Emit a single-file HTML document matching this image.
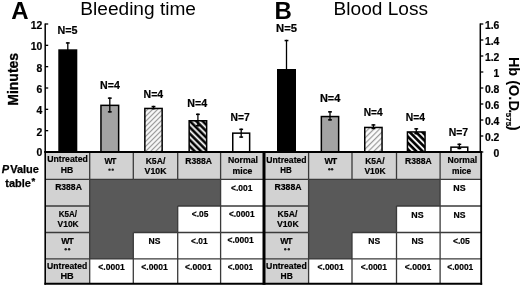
<!DOCTYPE html>
<html><head><meta charset="utf-8"><style>
html,body{margin:0;padding:0;background:#fff;width:520px;height:301px;overflow:hidden}
svg{display:block;font-family:"Liberation Sans", sans-serif;filter:grayscale(100%) blur(0.25px)}
</style></head><body>
<svg width="520" height="301" viewBox="0 0 520 301">
<rect width="520" height="301" fill="#fff"/>
<text x="11.2" y="18.8" font-size="24" font-weight="bold" text-anchor="start" fill="#000" >A</text>
<text x="274.4" y="18.8" font-size="24" font-weight="bold" text-anchor="start" fill="#000" >B</text>
<text x="80.3" y="14.9" font-size="19.1" font-weight="normal" text-anchor="start" fill="#000" >Bleeding time</text>
<text x="333.6" y="14.9" font-size="19.1" font-weight="normal" text-anchor="start" fill="#000" >Blood Loss</text>
<text transform="translate(18.2,79.3) rotate(-90)" font-size="14" font-weight="bold" text-anchor="middle" stroke="#000" stroke-width="0.3">Minutes</text>
<text transform="translate(509.3,56.9) rotate(90)" font-size="14.5" font-weight="bold" text-anchor="start" stroke="#000" stroke-width="0.08">Hb (O.D<tspan dx="-1.5">.</tspan><tspan font-size="8" dy="2.8" dx="-0.6">575</tspan><tspan dy="-2.8" dx="-0.4">)</tspan></text>
<line x1="45.2" y1="23.4" x2="45.2" y2="152.6" stroke="#000" stroke-width="1.5"/>
<line x1="45.2" y1="152.0" x2="48.2" y2="152.0" stroke="#000" stroke-width="1.3"/>
<text x="42.3" y="155.9" font-size="10.4" font-weight="bold" text-anchor="end" fill="#000" stroke="#000" stroke-width="0.2">0</text>
<line x1="45.2" y1="130.66666666666666" x2="48.2" y2="130.66666666666666" stroke="#000" stroke-width="1.3"/>
<text x="42.3" y="135.56666666666666" font-size="10.4" font-weight="bold" text-anchor="end" fill="#000" stroke="#000" stroke-width="0.2">2</text>
<line x1="45.2" y1="109.33333333333334" x2="48.2" y2="109.33333333333334" stroke="#000" stroke-width="1.3"/>
<text x="42.3" y="114.23333333333335" font-size="10.4" font-weight="bold" text-anchor="end" fill="#000" stroke="#000" stroke-width="0.2">4</text>
<line x1="45.2" y1="88.0" x2="48.2" y2="88.0" stroke="#000" stroke-width="1.3"/>
<text x="42.3" y="92.9" font-size="10.4" font-weight="bold" text-anchor="end" fill="#000" stroke="#000" stroke-width="0.2">6</text>
<line x1="45.2" y1="66.66666666666667" x2="48.2" y2="66.66666666666667" stroke="#000" stroke-width="1.3"/>
<text x="42.3" y="71.56666666666668" font-size="10.4" font-weight="bold" text-anchor="end" fill="#000" stroke="#000" stroke-width="0.2">8</text>
<line x1="45.2" y1="45.33333333333333" x2="48.2" y2="45.33333333333333" stroke="#000" stroke-width="1.3"/>
<text x="42.3" y="50.23333333333333" font-size="10.4" font-weight="bold" text-anchor="end" fill="#000" stroke="#000" stroke-width="0.2">10</text>
<line x1="45.2" y1="24.0" x2="48.2" y2="24.0" stroke="#000" stroke-width="1.3"/>
<text x="42.3" y="28.9" font-size="10.4" font-weight="bold" text-anchor="end" fill="#000" stroke="#000" stroke-width="0.2">12</text>
<line x1="480.3" y1="23.4" x2="480.3" y2="152.6" stroke="#000" stroke-width="1.5"/>
<line x1="480.3" y1="152.0" x2="483.3" y2="152.0" stroke="#000" stroke-width="1.3"/>
<text x="499.4" y="156.5" font-size="10.4" font-weight="bold" text-anchor="end" fill="#000" stroke="#000" stroke-width="0.2">0</text>
<line x1="480.3" y1="136.0" x2="483.3" y2="136.0" stroke="#000" stroke-width="1.3"/>
<text x="499.4" y="140.5" font-size="10.4" font-weight="bold" text-anchor="end" fill="#000" stroke="#000" stroke-width="0.2">0.2</text>
<line x1="480.3" y1="120.0" x2="483.3" y2="120.0" stroke="#000" stroke-width="1.3"/>
<text x="499.4" y="124.5" font-size="10.4" font-weight="bold" text-anchor="end" fill="#000" stroke="#000" stroke-width="0.2">0.4</text>
<line x1="480.3" y1="104.0" x2="483.3" y2="104.0" stroke="#000" stroke-width="1.3"/>
<text x="499.4" y="108.5" font-size="10.4" font-weight="bold" text-anchor="end" fill="#000" stroke="#000" stroke-width="0.2">0.6</text>
<line x1="480.3" y1="88.0" x2="483.3" y2="88.0" stroke="#000" stroke-width="1.3"/>
<text x="499.4" y="92.5" font-size="10.4" font-weight="bold" text-anchor="end" fill="#000" stroke="#000" stroke-width="0.2">0.8</text>
<line x1="480.3" y1="72.0" x2="483.3" y2="72.0" stroke="#000" stroke-width="1.3"/>
<text x="499.4" y="76.5" font-size="10.4" font-weight="bold" text-anchor="end" fill="#000" stroke="#000" stroke-width="0.2">1</text>
<line x1="480.3" y1="56.0" x2="483.3" y2="56.0" stroke="#000" stroke-width="1.3"/>
<text x="499.4" y="60.5" font-size="10.4" font-weight="bold" text-anchor="end" fill="#000" stroke="#000" stroke-width="0.2">1.2</text>
<line x1="480.3" y1="40.0" x2="483.3" y2="40.0" stroke="#000" stroke-width="1.3"/>
<text x="499.4" y="44.5" font-size="10.4" font-weight="bold" text-anchor="end" fill="#000" stroke="#000" stroke-width="0.2">1.4</text>
<line x1="480.3" y1="24.0" x2="483.3" y2="24.0" stroke="#000" stroke-width="1.3"/>
<text x="499.4" y="28.5" font-size="10.4" font-weight="bold" text-anchor="end" fill="#000" stroke="#000" stroke-width="0.2">1.6</text>
<defs><pattern id="hl" patternUnits="userSpaceOnUse" width="3.536" height="3.536" patternTransform="rotate(45)"><rect width="3.536" height="3.536" fill="#fff"/><rect x="0.729" width="1.300" height="3.536" fill="#9a9a9a"/></pattern><pattern id="hd" patternUnits="userSpaceOnUse" width="4.490" height="4.490" patternTransform="rotate(-45)"><rect width="4.490" height="4.490" fill="#000"/><rect x="0.585" width="1.800" height="4.490" fill="#fff"/></pattern><pattern id="hlB" patternUnits="userSpaceOnUse" width="3.924" height="3.924" patternTransform="rotate(45)"><rect width="3.924" height="3.924" fill="#fff"/><rect x="1.860" width="1.300" height="3.924" fill="#9a9a9a"/></pattern><pattern id="hdB" patternUnits="userSpaceOnUse" width="4.490" height="4.490" patternTransform="rotate(-45)"><rect width="4.490" height="4.490" fill="#000"/><rect x="0.090" width="1.800" height="4.490" fill="#fff"/></pattern></defs>
<rect x="59.05" y="50.05" width="17.5" height="102.7" fill="#000" stroke="#000" stroke-width="1.5"/>
<line x1="67.8" y1="42.2" x2="67.8" y2="56.4" stroke="#000" stroke-width="1.3"/>
<line x1="65.89999999999999" y1="42.95" x2="69.7" y2="42.95" stroke="#000" stroke-width="1.5"/>
<line x1="65.89999999999999" y1="55.65" x2="69.7" y2="55.65" stroke="#000" stroke-width="1.5"/>
<rect x="100.95" y="105.35" width="17.700000000000003" height="47.400000000000006" fill="#a3a3a3" stroke="#000" stroke-width="1.5"/>
<line x1="109.80000000000001" y1="97.4" x2="109.80000000000001" y2="112.6" stroke="#000" stroke-width="1.3"/>
<line x1="107.9" y1="98.15" x2="111.70000000000002" y2="98.15" stroke="#000" stroke-width="1.5"/>
<line x1="107.9" y1="111.85" x2="111.70000000000002" y2="111.85" stroke="#000" stroke-width="1.5"/>
<rect x="144.85" y="108.45" width="17.30000000000001" height="44.3" fill="url(#hl)" stroke="#000" stroke-width="1.5"/>
<line x1="153.5" y1="105.8" x2="153.5" y2="109.3" stroke="#000" stroke-width="1.3"/>
<line x1="151.6" y1="106.55" x2="155.4" y2="106.55" stroke="#000" stroke-width="1.5"/>
<line x1="151.6" y1="108.55" x2="155.4" y2="108.55" stroke="#000" stroke-width="1.5"/>
<rect x="189.15" y="120.75" width="17.5" height="32.0" fill="url(#hd)" stroke="#000" stroke-width="1.5"/>
<line x1="197.9" y1="113.6" x2="197.9" y2="126.4" stroke="#000" stroke-width="1.3"/>
<line x1="196.0" y1="114.35" x2="199.8" y2="114.35" stroke="#000" stroke-width="1.5"/>
<line x1="196.0" y1="125.65" x2="199.8" y2="125.65" stroke="#000" stroke-width="1.5"/>
<rect x="232.75" y="133.15" width="16.900000000000006" height="19.599999999999994" fill="#fff" stroke="#000" stroke-width="1.5"/>
<line x1="241.2" y1="128.6" x2="241.2" y2="137.8" stroke="#000" stroke-width="1.3"/>
<line x1="239.29999999999998" y1="129.35" x2="243.1" y2="129.35" stroke="#000" stroke-width="1.5"/>
<line x1="239.29999999999998" y1="137.05" x2="243.1" y2="137.05" stroke="#000" stroke-width="1.5"/>
<rect x="277.75" y="69.75" width="17.5" height="83.0" fill="#000" stroke="#000" stroke-width="1.5"/>
<line x1="286.5" y1="39.8" x2="286.5" y2="98.2" stroke="#000" stroke-width="1.3"/>
<line x1="284.6" y1="40.55" x2="288.4" y2="40.55" stroke="#000" stroke-width="1.5"/>
<line x1="284.6" y1="97.45" x2="288.4" y2="97.45" stroke="#000" stroke-width="1.5"/>
<rect x="321.35" y="116.55" width="17.299999999999955" height="36.2" fill="#a3a3a3" stroke="#000" stroke-width="1.5"/>
<line x1="330.0" y1="111.1" x2="330.0" y2="120.6" stroke="#000" stroke-width="1.3"/>
<line x1="328.1" y1="111.85" x2="331.9" y2="111.85" stroke="#000" stroke-width="1.5"/>
<line x1="328.1" y1="119.85" x2="331.9" y2="119.85" stroke="#000" stroke-width="1.5"/>
<rect x="364.75" y="127.45" width="17.30000000000001" height="25.299999999999997" fill="url(#hlB)" stroke="#000" stroke-width="1.5"/>
<line x1="373.4" y1="124.2" x2="373.4" y2="129.2" stroke="#000" stroke-width="1.3"/>
<line x1="371.5" y1="124.95" x2="375.29999999999995" y2="124.95" stroke="#000" stroke-width="1.5"/>
<line x1="371.5" y1="128.45" x2="375.29999999999995" y2="128.45" stroke="#000" stroke-width="1.5"/>
<rect x="407.45" y="131.95" width="17.600000000000023" height="20.80000000000001" fill="url(#hdB)" stroke="#000" stroke-width="1.5"/>
<line x1="416.25" y1="128.1" x2="416.25" y2="134.3" stroke="#000" stroke-width="1.3"/>
<line x1="414.35" y1="128.85" x2="418.15" y2="128.85" stroke="#000" stroke-width="1.5"/>
<line x1="414.35" y1="133.55" x2="418.15" y2="133.55" stroke="#000" stroke-width="1.5"/>
<rect x="450.95" y="147.15" width="16.80000000000001" height="5.599999999999994" fill="#fff" stroke="#000" stroke-width="1.5"/>
<line x1="459.35" y1="143.6" x2="459.35" y2="149.2" stroke="#000" stroke-width="1.3"/>
<line x1="457.45000000000005" y1="144.35" x2="461.25" y2="144.35" stroke="#000" stroke-width="1.5"/>
<line x1="457.45000000000005" y1="148.45" x2="461.25" y2="148.45" stroke="#000" stroke-width="1.5"/>
<rect x="45.2" y="152.0" width="218.8" height="131.8" fill="#fff"/>
<rect x="45.2" y="152.0" width="218.8" height="27.400000000000006" fill="#d2d2d2"/>
<rect x="45.2" y="152.0" width="44.5" height="131.8" fill="#d2d2d2"/>
<polygon points="89.70,179.40 220.60,179.40 220.60,206.00 177.70,206.00 177.70,232.50 133.30,232.50 133.30,258.90 89.70,258.90" fill="#595959"/>
<line x1="45.2" y1="179.4" x2="89.7" y2="179.4" stroke="#3a3a3a" stroke-width="1.3"/>
<line x1="89.7" y1="179.4" x2="133.3" y2="179.4" stroke="#3a3a3a" stroke-width="1.3"/>
<line x1="133.3" y1="179.4" x2="177.7" y2="179.4" stroke="#3a3a3a" stroke-width="1.3"/>
<line x1="177.7" y1="179.4" x2="220.6" y2="179.4" stroke="#3a3a3a" stroke-width="1.3"/>
<line x1="220.6" y1="179.4" x2="264.0" y2="179.4" stroke="#3a3a3a" stroke-width="1.3"/>
<line x1="45.2" y1="206.0" x2="89.7" y2="206.0" stroke="#3a3a3a" stroke-width="1.3"/>
<line x1="177.7" y1="206.0" x2="220.6" y2="206.0" stroke="#3a3a3a" stroke-width="1.3"/>
<line x1="220.6" y1="206.0" x2="264.0" y2="206.0" stroke="#3a3a3a" stroke-width="1.3"/>
<line x1="45.2" y1="232.5" x2="89.7" y2="232.5" stroke="#3a3a3a" stroke-width="1.3"/>
<line x1="133.3" y1="232.5" x2="177.7" y2="232.5" stroke="#3a3a3a" stroke-width="1.3"/>
<line x1="177.7" y1="232.5" x2="220.6" y2="232.5" stroke="#3a3a3a" stroke-width="1.3"/>
<line x1="220.6" y1="232.5" x2="264.0" y2="232.5" stroke="#3a3a3a" stroke-width="1.3"/>
<line x1="45.2" y1="258.9" x2="89.7" y2="258.9" stroke="#3a3a3a" stroke-width="1.3"/>
<line x1="89.7" y1="258.9" x2="133.3" y2="258.9" stroke="#3a3a3a" stroke-width="1.3"/>
<line x1="133.3" y1="258.9" x2="177.7" y2="258.9" stroke="#3a3a3a" stroke-width="1.3"/>
<line x1="177.7" y1="258.9" x2="220.6" y2="258.9" stroke="#3a3a3a" stroke-width="1.3"/>
<line x1="220.6" y1="258.9" x2="264.0" y2="258.9" stroke="#3a3a3a" stroke-width="1.3"/>
<line x1="89.7" y1="152.0" x2="89.7" y2="179.4" stroke="#3a3a3a" stroke-width="1.3"/>
<line x1="89.7" y1="179.4" x2="89.7" y2="206.0" stroke="#3a3a3a" stroke-width="1.3"/>
<line x1="89.7" y1="206.0" x2="89.7" y2="232.5" stroke="#3a3a3a" stroke-width="1.3"/>
<line x1="89.7" y1="232.5" x2="89.7" y2="258.9" stroke="#3a3a3a" stroke-width="1.3"/>
<line x1="89.7" y1="258.9" x2="89.7" y2="283.8" stroke="#3a3a3a" stroke-width="1.3"/>
<line x1="133.3" y1="152.0" x2="133.3" y2="179.4" stroke="#3a3a3a" stroke-width="1.3"/>
<line x1="133.3" y1="232.5" x2="133.3" y2="258.9" stroke="#3a3a3a" stroke-width="1.3"/>
<line x1="133.3" y1="258.9" x2="133.3" y2="283.8" stroke="#3a3a3a" stroke-width="1.3"/>
<line x1="177.7" y1="152.0" x2="177.7" y2="179.4" stroke="#3a3a3a" stroke-width="1.3"/>
<line x1="177.7" y1="206.0" x2="177.7" y2="232.5" stroke="#3a3a3a" stroke-width="1.3"/>
<line x1="177.7" y1="232.5" x2="177.7" y2="258.9" stroke="#3a3a3a" stroke-width="1.3"/>
<line x1="177.7" y1="258.9" x2="177.7" y2="283.8" stroke="#3a3a3a" stroke-width="1.3"/>
<line x1="220.6" y1="152.0" x2="220.6" y2="179.4" stroke="#3a3a3a" stroke-width="1.3"/>
<line x1="220.6" y1="179.4" x2="220.6" y2="206.0" stroke="#3a3a3a" stroke-width="1.3"/>
<line x1="220.6" y1="206.0" x2="220.6" y2="232.5" stroke="#3a3a3a" stroke-width="1.3"/>
<line x1="220.6" y1="232.5" x2="220.6" y2="258.9" stroke="#3a3a3a" stroke-width="1.3"/>
<line x1="220.6" y1="258.9" x2="220.6" y2="283.8" stroke="#3a3a3a" stroke-width="1.3"/>
<rect x="264.0" y="152.0" width="217.2" height="131.8" fill="#fff"/>
<rect x="264.0" y="152.0" width="217.2" height="27.400000000000006" fill="#d2d2d2"/>
<rect x="264.0" y="152.0" width="44.60000000000002" height="131.8" fill="#d2d2d2"/>
<polygon points="308.60,179.40 440.10,179.40 440.10,206.00 396.50,206.00 396.50,232.50 352.00,232.50 352.00,258.90 308.60,258.90" fill="#595959"/>
<line x1="264.0" y1="179.4" x2="308.6" y2="179.4" stroke="#3a3a3a" stroke-width="1.3"/>
<line x1="308.6" y1="179.4" x2="352.0" y2="179.4" stroke="#3a3a3a" stroke-width="1.3"/>
<line x1="352.0" y1="179.4" x2="396.5" y2="179.4" stroke="#3a3a3a" stroke-width="1.3"/>
<line x1="396.5" y1="179.4" x2="440.1" y2="179.4" stroke="#3a3a3a" stroke-width="1.3"/>
<line x1="440.1" y1="179.4" x2="481.2" y2="179.4" stroke="#3a3a3a" stroke-width="1.3"/>
<line x1="264.0" y1="206.0" x2="308.6" y2="206.0" stroke="#3a3a3a" stroke-width="1.3"/>
<line x1="396.5" y1="206.0" x2="440.1" y2="206.0" stroke="#3a3a3a" stroke-width="1.3"/>
<line x1="440.1" y1="206.0" x2="481.2" y2="206.0" stroke="#3a3a3a" stroke-width="1.3"/>
<line x1="264.0" y1="232.5" x2="308.6" y2="232.5" stroke="#3a3a3a" stroke-width="1.3"/>
<line x1="352.0" y1="232.5" x2="396.5" y2="232.5" stroke="#3a3a3a" stroke-width="1.3"/>
<line x1="396.5" y1="232.5" x2="440.1" y2="232.5" stroke="#3a3a3a" stroke-width="1.3"/>
<line x1="440.1" y1="232.5" x2="481.2" y2="232.5" stroke="#3a3a3a" stroke-width="1.3"/>
<line x1="264.0" y1="258.9" x2="308.6" y2="258.9" stroke="#3a3a3a" stroke-width="1.3"/>
<line x1="308.6" y1="258.9" x2="352.0" y2="258.9" stroke="#3a3a3a" stroke-width="1.3"/>
<line x1="352.0" y1="258.9" x2="396.5" y2="258.9" stroke="#3a3a3a" stroke-width="1.3"/>
<line x1="396.5" y1="258.9" x2="440.1" y2="258.9" stroke="#3a3a3a" stroke-width="1.3"/>
<line x1="440.1" y1="258.9" x2="481.2" y2="258.9" stroke="#3a3a3a" stroke-width="1.3"/>
<line x1="308.6" y1="152.0" x2="308.6" y2="179.4" stroke="#3a3a3a" stroke-width="1.3"/>
<line x1="308.6" y1="179.4" x2="308.6" y2="206.0" stroke="#3a3a3a" stroke-width="1.3"/>
<line x1="308.6" y1="206.0" x2="308.6" y2="232.5" stroke="#3a3a3a" stroke-width="1.3"/>
<line x1="308.6" y1="232.5" x2="308.6" y2="258.9" stroke="#3a3a3a" stroke-width="1.3"/>
<line x1="308.6" y1="258.9" x2="308.6" y2="283.8" stroke="#3a3a3a" stroke-width="1.3"/>
<line x1="352.0" y1="152.0" x2="352.0" y2="179.4" stroke="#3a3a3a" stroke-width="1.3"/>
<line x1="352.0" y1="232.5" x2="352.0" y2="258.9" stroke="#3a3a3a" stroke-width="1.3"/>
<line x1="352.0" y1="258.9" x2="352.0" y2="283.8" stroke="#3a3a3a" stroke-width="1.3"/>
<line x1="396.5" y1="152.0" x2="396.5" y2="179.4" stroke="#3a3a3a" stroke-width="1.3"/>
<line x1="396.5" y1="206.0" x2="396.5" y2="232.5" stroke="#3a3a3a" stroke-width="1.3"/>
<line x1="396.5" y1="232.5" x2="396.5" y2="258.9" stroke="#3a3a3a" stroke-width="1.3"/>
<line x1="396.5" y1="258.9" x2="396.5" y2="283.8" stroke="#3a3a3a" stroke-width="1.3"/>
<line x1="440.1" y1="152.0" x2="440.1" y2="179.4" stroke="#3a3a3a" stroke-width="1.3"/>
<line x1="440.1" y1="179.4" x2="440.1" y2="206.0" stroke="#3a3a3a" stroke-width="1.3"/>
<line x1="440.1" y1="206.0" x2="440.1" y2="232.5" stroke="#3a3a3a" stroke-width="1.3"/>
<line x1="440.1" y1="232.5" x2="440.1" y2="258.9" stroke="#3a3a3a" stroke-width="1.3"/>
<line x1="440.1" y1="258.9" x2="440.1" y2="283.8" stroke="#3a3a3a" stroke-width="1.3"/>
<line x1="44.4" y1="152.0" x2="481.6" y2="152.0" stroke="#000" stroke-width="2.0"/>
<line x1="44.4" y1="283.8" x2="482.2" y2="283.8" stroke="#000" stroke-width="2.0"/>
<line x1="45.2" y1="151" x2="45.2" y2="284.8" stroke="#000" stroke-width="1.6"/>
<line x1="264.0" y1="151" x2="264.0" y2="284.8" stroke="#000" stroke-width="3.0"/>
<line x1="481.2" y1="151" x2="481.2" y2="284.8" stroke="#000" stroke-width="1.8"/>
<circle cx="109.50" cy="169.65" r="1.2" fill="#1a1a1a"/>
<circle cx="112.70" cy="169.65" r="1.2" fill="#1a1a1a"/>
<circle cx="65.70" cy="249.20" r="1.2" fill="#1a1a1a"/>
<circle cx="69.10" cy="249.20" r="1.2" fill="#1a1a1a"/>
<circle cx="329.30" cy="169.25" r="1.2" fill="#1a1a1a"/>
<circle cx="332.10" cy="169.25" r="1.2" fill="#1a1a1a"/>
<circle cx="285.20" cy="249.20" r="1.2" fill="#1a1a1a"/>
<circle cx="288.80" cy="249.20" r="1.2" fill="#1a1a1a"/>
<text transform="translate(67.52,34.02) scale(1.024,1)" font-size="10.5" font-weight="bold" text-anchor="middle" fill="#000" stroke="#000" stroke-width="0.2">N=5</text>
<text transform="translate(109.97,89.02) scale(1.014,1)" font-size="10.5" font-weight="bold" text-anchor="middle" fill="#000" stroke="#000" stroke-width="0.2">N=4</text>
<text transform="translate(153.39,98.02)" font-size="10.5" font-weight="bold" text-anchor="middle" fill="#000" stroke="#000" stroke-width="0.2">N=4</text>
<text transform="translate(197.28,107.02) scale(1.017,1)" font-size="10.5" font-weight="bold" text-anchor="middle" fill="#000" stroke="#000" stroke-width="0.2">N=4</text>
<text transform="translate(240.17,121.02) scale(0.981,1)" font-size="10.5" font-weight="bold" text-anchor="middle" fill="#000" stroke="#000" stroke-width="0.2">N=7</text>
<text transform="translate(286.48,32.02) scale(1.071,1)" font-size="10.5" font-weight="bold" text-anchor="middle" fill="#000" stroke="#000" stroke-width="0.2">N=5</text>
<text transform="translate(330.10,102.02) scale(1.045,1)" font-size="10.5" font-weight="bold" text-anchor="middle" fill="#000" stroke="#000" stroke-width="0.2">N=4</text>
<text transform="translate(373.12,116.02) scale(0.967,1)" font-size="10.5" font-weight="bold" text-anchor="middle" fill="#000" stroke="#000" stroke-width="0.2">N=4</text>
<text transform="translate(415.45,121.02) scale(0.984,1)" font-size="10.5" font-weight="bold" text-anchor="middle" fill="#000" stroke="#000" stroke-width="0.2">N=4</text>
<text transform="translate(458.40,136.02) scale(0.995,1)" font-size="10.5" font-weight="bold" text-anchor="middle" fill="#000" stroke="#000" stroke-width="0.2">N=7</text>
<text transform="translate(67.47,162.02) scale(0.949,1)" font-size="9.2" font-weight="bold" text-anchor="middle" fill="#000" stroke="#000" stroke-width="0.2">Untreated</text>
<text transform="translate(67.02,173.02) scale(0.941,1)" font-size="9.2" font-weight="bold" text-anchor="middle" fill="#000" stroke="#000" stroke-width="0.2">HB</text>
<text transform="translate(110.48,164.02) scale(0.917,1)" font-size="9.2" font-weight="bold" text-anchor="middle" fill="#000" stroke="#000" stroke-width="0.2">W<tspan dx="-1.2">T</tspan></text>
<text transform="translate(155.45,164.02) scale(0.940,1)" font-size="9.2" font-weight="bold" text-anchor="middle" fill="#000" stroke="#000" stroke-width="0.2">K5A/</text>
<text transform="translate(155.55,174.02) scale(0.950,1)" font-size="9.2" font-weight="bold" text-anchor="middle" fill="#000" stroke="#000" stroke-width="0.2">V10K</text>
<text transform="translate(198.57,164.02) scale(0.934,1)" font-size="9.2" font-weight="bold" text-anchor="middle" fill="#000" stroke="#000" stroke-width="0.2">R388A</text>
<text transform="translate(242.97,163.02) scale(0.950,1)" font-size="9.2" font-weight="bold" text-anchor="middle" fill="#000" stroke="#000" stroke-width="0.2">Normal</text>
<text transform="translate(242.41,174.02) scale(0.946,1)" font-size="9.2" font-weight="bold" text-anchor="middle" fill="#000" stroke="#000" stroke-width="0.2">mice</text>
<text transform="translate(68.49,190.02) scale(0.933,1)" font-size="9.2" font-weight="bold" text-anchor="middle" fill="#000" stroke="#000" stroke-width="0.2">R388A</text>
<text transform="translate(67.80,217.02) scale(0.875,1)" font-size="9.2" font-weight="bold" text-anchor="middle" fill="#000" stroke="#000" stroke-width="0.2">K5A/</text>
<text transform="translate(68.16,227.02) scale(0.918,1)" font-size="9.2" font-weight="bold" text-anchor="middle" fill="#000" stroke="#000" stroke-width="0.2">V10K</text>
<text transform="translate(67.53,244.02) scale(0.945,1)" font-size="9.2" font-weight="bold" text-anchor="middle" fill="#000" stroke="#000" stroke-width="0.2">W<tspan dx="-1.2">T</tspan></text>
<text transform="translate(67.12,269.02) scale(0.934,1)" font-size="9.2" font-weight="bold" text-anchor="middle" fill="#000" stroke="#000" stroke-width="0.2">Untreated</text>
<text transform="translate(67.10,279.02)" font-size="9.2" font-weight="bold" text-anchor="middle" fill="#000" stroke="#000" stroke-width="0.2">HB</text>
<text transform="translate(241.78,191.02) scale(0.922,1)" font-size="9.2" font-weight="bold" text-anchor="middle" fill="#000" stroke="#000" stroke-width="0.2">&lt;.001</text>
<text transform="translate(200.02,217.02) scale(0.911,1)" font-size="9.2" font-weight="bold" text-anchor="middle" fill="#000" stroke="#000" stroke-width="0.2">&lt;.05</text>
<text transform="translate(241.71,217.02) scale(0.901,1)" font-size="9.2" font-weight="bold" text-anchor="middle" fill="#000" stroke="#000" stroke-width="0.2">&lt;.0001</text>
<text transform="translate(154.42,244.02) scale(0.929,1)" font-size="9.2" font-weight="bold" text-anchor="middle" fill="#000" stroke="#000" stroke-width="0.2">NS</text>
<text transform="translate(199.30,244.02) scale(0.911,1)" font-size="9.2" font-weight="bold" text-anchor="middle" fill="#000" stroke="#000" stroke-width="0.2">&lt;.01</text>
<text transform="translate(240.51,243.02) scale(0.923,1)" font-size="9.2" font-weight="bold" text-anchor="middle" fill="#000" stroke="#000" stroke-width="0.2">&lt;.0001</text>
<text transform="translate(111.55,270.02) scale(0.930,1)" font-size="9.2" font-weight="bold" text-anchor="middle" fill="#000" stroke="#000" stroke-width="0.2">&lt;.0001</text>
<text transform="translate(154.54,270.02) scale(0.934,1)" font-size="9.2" font-weight="bold" text-anchor="middle" fill="#000" stroke="#000" stroke-width="0.2">&lt;.0001</text>
<text transform="translate(198.38,270.02) scale(0.937,1)" font-size="9.2" font-weight="bold" text-anchor="middle" fill="#000" stroke="#000" stroke-width="0.2">&lt;.0001</text>
<text transform="translate(240.39,270.02) scale(0.896,1)" font-size="9.2" font-weight="bold" text-anchor="middle" fill="#000" stroke="#000" stroke-width="0.2">&lt;.0001</text>
<text transform="translate(286.45,163.02) scale(0.941,1)" font-size="9.2" font-weight="bold" text-anchor="middle" fill="#000" stroke="#000" stroke-width="0.2">Untreated</text>
<text transform="translate(286.00,173.02) scale(0.867,1)" font-size="9.2" font-weight="bold" text-anchor="middle" fill="#000" stroke="#000" stroke-width="0.2">HB</text>
<text transform="translate(330.76,164.02) scale(0.964,1)" font-size="9.2" font-weight="bold" text-anchor="middle" fill="#000" stroke="#000" stroke-width="0.2">W<tspan dx="-1.2">T</tspan></text>
<text transform="translate(374.88,164.02) scale(0.920,1)" font-size="9.2" font-weight="bold" text-anchor="middle" fill="#000" stroke="#000" stroke-width="0.2">K5A/</text>
<text transform="translate(375.00,174.02) scale(0.922,1)" font-size="9.2" font-weight="bold" text-anchor="middle" fill="#000" stroke="#000" stroke-width="0.2">V10K</text>
<text transform="translate(418.38,164.02) scale(0.935,1)" font-size="9.2" font-weight="bold" text-anchor="middle" fill="#000" stroke="#000" stroke-width="0.2">R388A</text>
<text transform="translate(462.30,163.02) scale(0.934,1)" font-size="9.2" font-weight="bold" text-anchor="middle" fill="#000" stroke="#000" stroke-width="0.2">Normal</text>
<text transform="translate(461.64,174.02) scale(0.920,1)" font-size="9.2" font-weight="bold" text-anchor="middle" fill="#000" stroke="#000" stroke-width="0.2">mice</text>
<text transform="translate(287.96,190.02) scale(0.947,1)" font-size="9.2" font-weight="bold" text-anchor="middle" fill="#000" stroke="#000" stroke-width="0.2">R388A</text>
<text transform="translate(287.44,217.02) scale(0.947,1)" font-size="9.2" font-weight="bold" text-anchor="middle" fill="#000" stroke="#000" stroke-width="0.2">K5A/</text>
<text transform="translate(287.83,227.02) scale(0.948,1)" font-size="9.2" font-weight="bold" text-anchor="middle" fill="#000" stroke="#000" stroke-width="0.2">V10K</text>
<text transform="translate(286.51,244.02) scale(0.942,1)" font-size="9.2" font-weight="bold" text-anchor="middle" fill="#000" stroke="#000" stroke-width="0.2">W<tspan dx="-1.2">T</tspan></text>
<text transform="translate(286.43,269.02) scale(0.949,1)" font-size="9.2" font-weight="bold" text-anchor="middle" fill="#000" stroke="#000" stroke-width="0.2">Untreated</text>
<text transform="translate(286.66,279.02) scale(0.919,1)" font-size="9.2" font-weight="bold" text-anchor="middle" fill="#000" stroke="#000" stroke-width="0.2">HB</text>
<text transform="translate(459.46,191.02) scale(0.964,1)" font-size="9.2" font-weight="bold" text-anchor="middle" fill="#000" stroke="#000" stroke-width="0.2">NS</text>
<text transform="translate(417.46,218.02) scale(0.964,1)" font-size="9.2" font-weight="bold" text-anchor="middle" fill="#000" stroke="#000" stroke-width="0.2">NS</text>
<text transform="translate(459.57,218.02) scale(0.938,1)" font-size="9.2" font-weight="bold" text-anchor="middle" fill="#000" stroke="#000" stroke-width="0.2">NS</text>
<text transform="translate(374.20,244.02) scale(0.930,1)" font-size="9.2" font-weight="bold" text-anchor="middle" fill="#000" stroke="#000" stroke-width="0.2">NS</text>
<text transform="translate(417.58,244.02) scale(0.941,1)" font-size="9.2" font-weight="bold" text-anchor="middle" fill="#000" stroke="#000" stroke-width="0.2">NS</text>
<text transform="translate(461.40,244.02) scale(0.933,1)" font-size="9.2" font-weight="bold" text-anchor="middle" fill="#000" stroke="#000" stroke-width="0.2">&lt;.05</text>
<text transform="translate(330.68,270.02) scale(0.924,1)" font-size="9.2" font-weight="bold" text-anchor="middle" fill="#000" stroke="#000" stroke-width="0.2">&lt;.0001</text>
<text transform="translate(373.94,270.02) scale(0.925,1)" font-size="9.2" font-weight="bold" text-anchor="middle" fill="#000" stroke="#000" stroke-width="0.2">&lt;.0001</text>
<text transform="translate(418.10,270.02) scale(0.936,1)" font-size="9.2" font-weight="bold" text-anchor="middle" fill="#000" stroke="#000" stroke-width="0.2">&lt;.0001</text>
<text transform="translate(460.32,270.02) scale(0.915,1)" font-size="9.2" font-weight="bold" text-anchor="middle" fill="#000" stroke="#000" stroke-width="0.2">&lt;.0001</text>
<text x="20.3" y="173.3" font-size="11" font-weight="bold" text-anchor="middle" stroke="#000" stroke-width="0.25"><tspan font-style="italic">P</tspan><tspan dx="1.2">Value</tspan></text>
<text x="20.3" y="186.6" font-size="11" font-weight="bold" text-anchor="middle" stroke="#000" stroke-width="0.25">table<tspan font-size="9.5" dy="-2.2" dx="0.6">*</tspan></text>
</svg>
</body></html>
